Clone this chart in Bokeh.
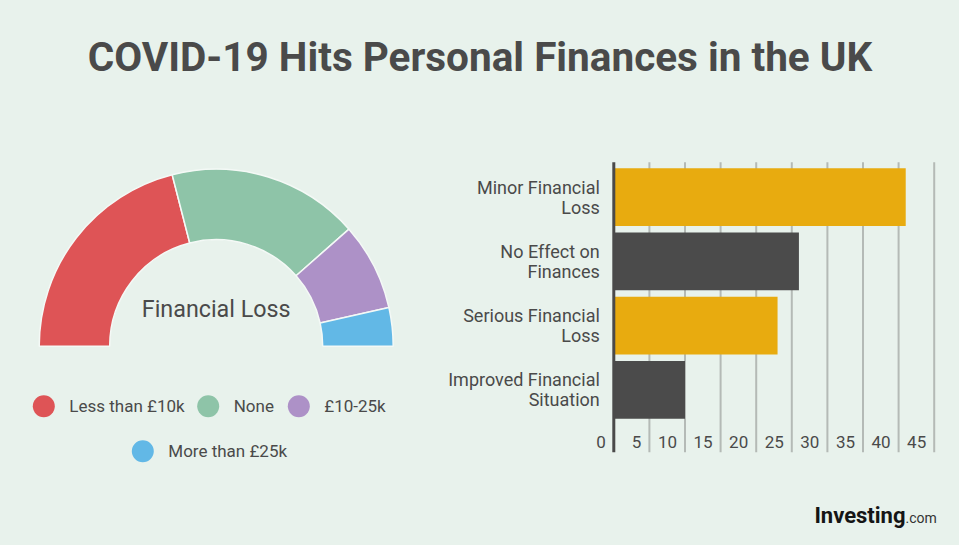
import math
from bokeh.plotting import figure
from bokeh.models import Range1d
from bokeh.core.properties import value
from bokeh.embed import file_html
from bokeh.resources import INLINE

# ---------------- data ----------------
title = "COVID-19 Hits Personal Finances in the UK"

loss_labels = ["Less than £10k", "None", "£10-25k", "More than £25k"]
loss_shares = [42, 35, 16, 7]
donut_label = "Financial Loss"

effect_labels = ["Minor Financial\nLoss", "No Effect on\nFinances",
                 "Serious Financial\nLoss", "Improved Financial\nSituation"]
effect_values = [41, 26, 23, 10]

x_ticks = [0, 5, 10, 15, 20, 25, 30, 35, 40, 45]
x_tick_labels = ["0", "5", "10", "15", "20", "25", "30", "35", "40", "45"]

brand = "Investing"
brand_suffix = ".com"

# ---------------- styles / layout ----------------
W, H = 959, 545
BG = "#e8f2ec"
TXT = "#4a4a4a"
FONT = "Roboto"
loss_colors = ["#de5456", "#8ec4a8", "#ad91c7", "#62b8e6"]
bar_colors = ["#e8ab0f", "#4b4b4b", "#e8ab0f", "#4b4b4b"]
GRID = "#b4bab6"


def up(py):
    """page pixel row (from top) -> y coordinate of the page-sized default range"""
    return H - py


# donut geometry (page px)
CX, CY, R_OUT, R_IN = 215.7, 345.7, 177, 106.5
legend_px = [43.3, 207.7, 298.3, 142.3]
legend_py = [405.7, 405.7, 405.7, 450.7]
# bar-chart geometry (page px)
AX0, PXU = 613.3, 7.12          # x pixel of value 0, pixels per unit
ROW0, PITCH = 196.7, 64.2       # y pixel of first bar centre, pixels per bar
PLOT_TOP, PLOT_BOT = 161.7, 451.7
TICK_MID = 441.0

p = figure(width=W, height=H, x_range=Range1d(0, W), y_range=Range1d(0, H),
           output_backend="svg", toolbar_location=None,
           x_axis_type=None, y_axis_type=None, min_border=0,
           background_fill_color=BG, border_fill_color=BG, outline_line_color=None)
p.extra_x_ranges = {"val": Range1d(-AX0 / PXU, (W - AX0) / PXU)}
p.extra_y_ranges = {"cat": Range1d((H - ROW0) / PITCH, -ROW0 / PITCH)}

# ---------------- title ----------------
p.text(x=[W / 2], y=[up(56.5)], text=[title], text_font=value(FONT),
       text_font_style="bold", text_font_size="40.5px", text_color=TXT,
       text_align="center", text_baseline="middle")

# ---------------- donut ----------------
total = float(sum(loss_shares))
starts, ends, cum = [], [], 0.0
for s in loss_shares:
    starts.append(math.pi * (1 - cum / total))
    cum += s
    ends.append(math.pi * (1 - cum / total))
p.annular_wedge(x=CX, y=up(CY), inner_radius=R_IN, outer_radius=R_OUT,
                start_angle=starts, end_angle=ends, direction="clock",
                fill_color=loss_colors, line_color="#f4f9f6", line_width=1.5)
p.text(x=[CX], y=[up(308.3)], text=[donut_label], text_font=value(FONT),
       text_font_size="23.3px", text_color=TXT, text_align="center",
       text_baseline="middle")
p.scatter(x=legend_px, y=[up(v) for v in legend_py], size=22, marker="circle",
          fill_color=loss_colors, line_color=None)
p.text(x=legend_px, y=[up(v) for v in legend_py], text=loss_labels, x_offset=25.5,
       text_font=value(FONT), text_font_size="17px", text_color=TXT,
       text_align="left", text_baseline="middle")

# ---------------- bars ----------------
ypos = list(range(len(effect_values)))
grid_x = x_ticks[1:]
p.segment(x0=grid_x, x1=grid_x, y0=up(PLOT_TOP), y1=up(PLOT_BOT),
          x_range_name="val", line_color=GRID, line_width=2)
p.hbar(y=ypos, left=0, right=effect_values, height=0.9,
       fill_color=bar_colors, line_color=None,
       x_range_name="val", y_range_name="cat")
p.segment(x0=[0], x1=[0], y0=up(PLOT_TOP), y1=up(PLOT_BOT),
          x_range_name="val", line_color=TXT, line_width=3)
p.text(x=[0] * len(ypos), y=ypos, text=effect_labels, x_offset=-14,
       x_range_name="val", y_range_name="cat",
       text_font=value(FONT), text_font_size="18px", text_color=TXT,
       text_align="right", text_baseline="middle", text_line_height=0.95)
p.text(x=x_ticks, y=[up(TICK_MID)] * len(x_ticks), text=x_tick_labels,
       x_offset=-8, x_range_name="val",
       text_font=value(FONT), text_font_size="17px",
       text_color=TXT, text_align="right", text_baseline="middle")

# ---------------- logo ----------------
p.text(x=[905], y=[up(514.6)], text=[brand], text_font=value(FONT),
       text_font_style="bold", text_font_size="22px", text_color="#151515",
       text_align="right", text_baseline="middle")
p.text(x=[905], y=[up(517.4)], text=[brand_suffix], text_font=value(FONT),
       text_font_size="14px", text_color="#333333",
       text_align="left", text_baseline="middle")

html = file_html(p, INLINE)
html = html.replace("</head>",
                    "<style>html, body { background-color: %s; }</style></head>" % BG, 1)
open("out.html", "w").write(html)
